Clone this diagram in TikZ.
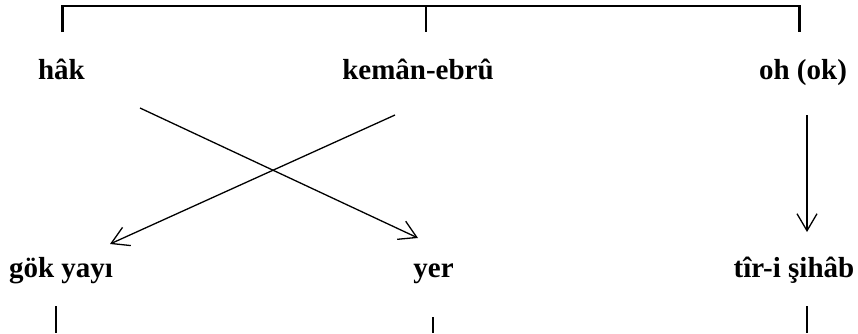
\documentclass[tikz,border=0pt]{standalone}
\usepackage{fontspec}
\setmainfont{Liberation Serif}
\usetikzlibrary{arrows.meta}
\begin{document}
\begin{tikzpicture}[x=1pt,y=-1pt,
  lbl/.style={inner sep=0pt,anchor=base,font=\fontsize{29}{34}\selectfont\bfseries},
  bracket/.style={line width=2.2pt},
  conn/.style={line width=1.3pt,-{Straight Barb[length=17pt,width=20pt,line width=1.3pt]}}]
\useasboundingbox (0,0) rectangle (858,333);
% labels
\node[lbl] (hak) at (61.5,79) {hâk};
\node[lbl] (keman) at (418,79) {kemân-ebrû};
\node[lbl] (oh) at (803,79) {oh (ok)};
\node[lbl] (gok) at (61,277) {gök yayı};
\node[lbl] (yer) at (433.5,277) {yer};
\node[lbl] (tir) at (794,277) {tîr-i şihâb};
% top bracket
\coordinate (tl) at (62.5,6);
\coordinate (tm) at (426,6);
\coordinate (tr) at (799.5,6);
\coordinate (tlb) at (62.5,32);
\coordinate (tmb) at (426,32);
\coordinate (trb) at (799.5,32);
\draw[bracket] (tlb) -- (tl) -- (tr) -- (trb);
\draw[bracket] (tm) -- (tmb);
% bottom stubs
\coordinate (bl) at (56,306);
\coordinate (bm) at (433,317);
\coordinate (br) at (807,306);
\coordinate (blb) at (56,333);
\coordinate (bmb) at (433,333);
\coordinate (brb) at (807,333);
\draw[bracket] (bl) -- (blb);
\draw[bracket] (bm) -- (bmb);
\draw[bracket] (br) -- (brb);
% arrows
\coordinate (a1s) at (140,108);
\coordinate (a1e) at (418,238);
\coordinate (a2s) at (395,115);
\coordinate (a2e) at (110,244);
\coordinate (a3s) at (807,115);
\coordinate (a3e) at (807,232);
\draw[conn] (a1s) -- (a1e);
\draw[conn] (a2s) -- (a2e);
\draw[conn] (a3s) -- (a3e);
\end{tikzpicture}
\end{document}
